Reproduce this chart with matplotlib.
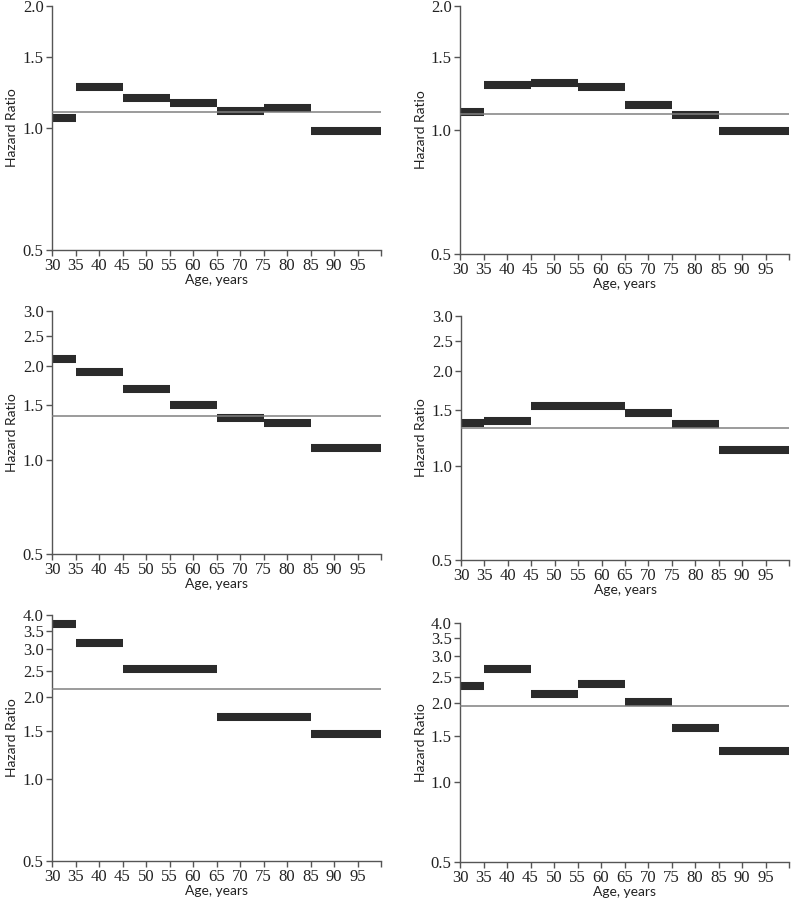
import matplotlib
matplotlib.use("Agg")
import matplotlib.pyplot as plt
from matplotlib.ticker import FixedLocator, FixedFormatter, NullLocator

# tick numbers in a Times-like serif, axis titles in sans
plt.rcParams["font.family"] = ["Liberation Serif", "DejaVu Serif"]

# ==========================================
# data: age bands and hazard ratios per panel
# ==========================================
p1_start = [30, 35, 45, 55, 65, 75, 85]
p1_end = [35, 45, 55, 65, 75, 85, 100]
p1_hr = [1.06, 1.26, 1.185, 1.155, 1.10, 1.12, 0.983]
p1_ref = 1.093

p2_start = [30, 35, 45, 55, 65, 75, 85]
p2_end = [35, 45, 55, 65, 75, 85, 100]
p2_hr = [1.104, 1.286, 1.30, 1.274, 1.148, 1.088, 0.994]
p2_ref = 1.094

p3_start = [30, 35, 45, 55, 65, 75, 85]
p3_end = [35, 45, 55, 65, 75, 85, 100]
p3_hr = [2.10, 1.918, 1.684, 1.504, 1.366, 1.317, 1.093]
p3_ref = 1.383

p4_start = [30, 35, 45, 65, 75, 85]
p4_end = [35, 45, 65, 75, 85, 100]
p4_hr = [1.366, 1.387, 1.549, 1.467, 1.36, 1.125]
p4_ref = 1.317

p5_start = [30, 35, 45, 65, 85]
p5_end = [35, 45, 65, 85, 100]
p5_hr = [3.72, 3.166, 2.534, 1.689, 1.463]
p5_ref = 2.134

p6_start = [30, 35, 45, 55, 65, 75, 85]
p6_end = [35, 45, 55, 65, 75, 85, 100]
p6_hr = [2.307, 2.676, 2.151, 2.354, 2.018, 1.608, 1.315]
p6_ref = 1.937

yticks_2 = [0.5, 1.0, 1.5, 2.0]
yticks_3 = [0.5, 1.0, 1.5, 2.0, 2.5, 3.0]
yticks_4 = [0.5, 1.0, 1.5, 2.0, 2.5, 3.0, 3.5, 4.0]
xticks = [30, 35, 40, 45, 50, 55, 60, 65, 70, 75, 80, 85, 90, 95, 100]
xticklabels = ["30", "35", "40", "45", "50", "55", "60", "65", "70", "75",
               "80", "85", "90", "95", ""]

W, H = 793, 900
fig = plt.figure(figsize=(W / 100, H / 100), dpi=100)


def make_axes(left, right, top, bottom):
    return fig.add_axes([left / W, 1 - bottom / H, (right - left) / W, (bottom - top) / H])


panels = [
    (make_axes(52, 381, 6, 250), p1_start, p1_end, p1_hr, p1_ref, yticks_2),
    (make_axes(460, 789, 6, 254), p2_start, p2_end, p2_hr, p2_ref, yticks_2),
    (make_axes(52, 381, 311, 554), p3_start, p3_end, p3_hr, p3_ref, yticks_3),
    (make_axes(461, 789, 316, 560), p4_start, p4_end, p4_hr, p4_ref, yticks_3),
    (make_axes(52, 381, 615, 861), p5_start, p5_end, p5_hr, p5_ref, yticks_4),
    (make_axes(460, 789, 623, 862), p6_start, p6_end, p6_hr, p6_ref, yticks_4),
]

axis_col = "#555555"
for ax, x0, x1, hr, ref, yt in panels:
    ax.set_yscale("log")
    ax.set_ylim(yt[0], yt[-1])
    ax.set_xlim(30, 100)

    ax.hlines(hr, x0, x1, colors="#2b2b2b", linewidth=5.8, zorder=2)
    ax.axhline(ref, color="#808080", linewidth=1.1, zorder=3)

    ax.yaxis.set_major_locator(FixedLocator(yt))
    ax.yaxis.set_major_formatter(FixedFormatter([f"{v:.1f}" for v in yt]))
    ax.yaxis.set_minor_locator(NullLocator())
    ax.set_xticks(xticks)
    ax.set_xticklabels(xticklabels)

    for s in ["top", "right"]:
        ax.spines[s].set_visible(False)
    for s in ["left", "bottom"]:
        ax.spines[s].set_color(axis_col)
        ax.spines[s].set_linewidth(1.0)
    ax.tick_params(axis="both", colors=axis_col, length=4, width=1.0,
                   labelcolor="#222222", labelsize=12, pad=2)

    ax.set_xlabel("Age, years", fontfamily="Lato", fontsize=10, color="#222222", labelpad=0)
    ax.set_ylabel("Hazard Ratio", fontfamily="Lato", fontsize=10, color="#222222", labelpad=3)

fig.savefig("out.png", dpi=100)
